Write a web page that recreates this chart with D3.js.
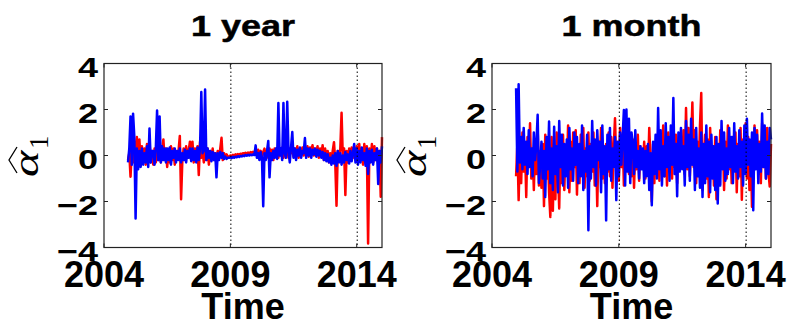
<!DOCTYPE html>
<html>
<head>
<meta charset="utf-8">
<script src="https://cdn.jsdelivr.net/npm/d3@7"></script>
<style>
  html, body { margin: 0; padding: 0; background: #fff; }
  svg { display: block; }
</style>
</head>
<body>
<div id="chart"></div>
<script>
// sampling of the estimates: first date and spacing in years
const startYear = 2004.95;
const stepYears = 0.05;

const xTicks = [2004, 2009, 2014];
const yTicks = [-4, -2, 0, 2, 4];
const markerYears = [2009, 2014];
const panelTitles = ["1 year", "1 month"];

// 1 year window estimates
const yearRed = [
  -0.2, 0.1, -0.92, 0.3, -0.3, 0.2, 0.4, 0.8, -0.2, 0.7,
  -0.3, 0.4, -0.2, 0.3, -0.4, 0.5, -0.1, 0.6, -0.3, 0.2,
  -0.4, 0.3, -0.3, 0.2, -0.2, 0.1, -0.3, 0.2, 0.7, -0.2,
  0.3, -0.5, 0.2, -0.3, 0.4, -0.2, 0.3, -0.4, 0.2, -0.1,
  0.2, 0.85, -1.9, -0.2, 0.3, -0.2, 0.4, -0.1, 0.2, 0.6,
  -0.2, 0.6, -0.3, 0.3, -0.2, 0.4, -0.85, 0.6, -0.1, 0.2,
  -0.3, 0.2, -0.2, 0.3, -0.4, 0.2, -0.1, 0.3, -0.2, 0.1,
  -0.2, 0.2, -0.1, 0.3, 0.77, -0.2, 0.1, -0.1, 0.05, -0.05,
  -0.05, 0.0, -0.02, 0.03, 0.0, 0.05, 0.02, 0.06, 0.04, 0.08,
  0.05, 0.1, 0.07, 0.12, 0.09, 0.13, 0.1, 0.15, 0.12, 0.16,
  0.1, 0.2, 0.05, 0.25, 0.0, 0.2, -0.1, 0.15, 0.3, -0.1,
  0.2, -0.1, 0.3, 0.0, 0.25, -0.2, 0.3, 0.05, 0.2, -0.1,
  0.3, 0.0, 0.35, -0.1, 0.25, 0.05, 0.4, -0.1, 0.3, 0.1,
  0.35, -0.05, 0.3, 0.1, 0.4, -0.1, 0.3, 0.05, 0.35, 0.0,
  0.3, 0.1, 0.4, -0.05, 0.35, 0.15, 0.45, 0.0, 0.3, 0.1,
  0.4, -0.1, 0.3, 0.0, 0.45, -0.2, 0.3, -0.1, 0.2, -0.3,
  0.1, -0.2, 0.2, 0.58, -0.3, -2.18, 0.2, -0.2, 0.3, 1.86,
  -0.1, 0.3, -1.72, 0.2, -0.3, 0.3, -0.2, 0.35, -0.1, 0.3,
  -0.2, 0.4, -0.3, 0.5, -0.2, 0.3, -0.4, 0.5, -0.3, 0.4,
  -3.83, 0.3, -0.2, 0.5, -0.3, 0.4, -0.2, 0.3, -0.4, 0.2,
  -1.79, 0.8
];

const yearBlue = [
  -0.3, 0.3, 1.7, -0.4, 1.82, 0.8, -2.74, 0.3, -0.6, 0.2,
  -0.5, 0.3, -0.4, 0.1, -0.3, 0.4, -0.5, 1.17, -0.3, 0.2,
  0.2, -0.4, 0.3, 1.96, -0.2, 1.7, -0.3, 0.4, -0.2, 0.3,
  -0.3, 0.3, -0.2, 0.35, -0.4, 0.2, -0.1, 0.3, -0.3, 0.2,
  -0.2, 0.3, -0.3, 0.1, -0.2, 0.25, -0.3, 0.2, -0.1, 0.3,
  -0.25, 0.3, -0.2, 0.2, -0.3, 0.35, -0.2, 0.3, 2.76, 0.1,
  0.2, 2.87, -0.2, 0.3, -0.1, 0.2, -0.25, 0.15, -0.2, 0.1,
  -0.95, 0.1, -0.2, 0.15, -0.1, 0.1, -0.15, -0.05, -0.15, -0.1,
  -0.1, -0.08, -0.12, -0.06, -0.1, -0.05, -0.08, -0.03, -0.06, -0.02,
  -0.04, 0.0, -0.03, 0.02, -0.01, 0.03, 0.0, 0.04, 0.01, 0.05,
  0.02, 0.44, -0.1, 0.1, -0.2, 0.15, -0.1, -2.21, 0.1, -0.2,
  0.2, 0.63, -0.95, 0.1, -0.2, 0.2, -0.1, 0.3, -0.15, 2.28,
  0.0, 0.3, -0.2, 2.28, 0.1, -0.1, 2.34, 0.2, -0.3, 0.35,
  1.02, -0.1, 0.3, -0.2, 0.25, 0.0, 0.35, -0.1, 0.2, 0.1,
  0.76, -0.1, 0.3, 0.0, 0.3, -0.1, 0.25, 0.05, 0.3, -0.05,
  0.25, 0.0, 0.2, -0.1, 0.15, -0.2, 0.1, -0.25, 0.05, -0.3,
  -0.1, -0.4, 0.0, -0.35, 0.1, -0.45, 0.2, -0.3, 0.1, -0.4,
  0.0, -0.3, 0.15, -0.2, 0.05, -0.35, 0.2, -0.25, 0.1, 0.5,
  -0.3, 0.3, -0.4, 0.2, -0.3, 0.35, -0.2, 0.1, -0.45, 0.3,
  -0.8, 0.2, -0.3, 0.25, -0.4, 0.1, -0.2, 0.3, -1.24, 0.2,
  -0.3, 0.4
];

// 1 month window estimates
const monthRed = [
  -0.9, 0.5, -1.94, 0.2, -1.2, 1.0, -0.7, 0.4, -1.8, 0.8,
  -0.5, 1.4, -1.0, 0.3, -1.5, 0.6, -0.8, 1.2, -1.3, 0.2,
  -1.4, 0.5, -2.2, 0.9, -1.0, 0.3, -1.6, -2.67, 0.8, -2.4,
  0.4, -1.9, 1.0, -0.6, -2.3, 0.5, -1.2, 0.9, -1.5, 0.3,
  -0.8, 1.3, -1.6, 0.6, -1.1, 1.0, -0.5, 1.1, -1.7, 0.4,
  -1.2, 0.9, -0.6, 1.2, -1.4, 0.3, -0.9, 1.0, -1.1, 0.5,
  -0.7, 1.0, -1.3, 0.4, -2.2, 0.6, -0.5, 1.2, -1.0, 0.3,
  -1.2, 0.5, -0.7, 1.0, -0.9, 0.8, -1.4, 0.4, 1.62, -0.6,
  0.4, -1.1, 1.2, -0.5, 0.9, -1.3, 0.6, -0.4, 1.0, -0.8,
  0.3, -0.9, 0.7, -1.4, 0.5, -0.6, 0.9, -1.1, 0.4, -0.3,
  -0.5, 0.6, -1.0, 0.4, -0.8, 1.2, -0.3, -2.0, 0.5, -1.2,
  0.4, -0.8, 1.0, -1.1, 0.6, -0.4, 1.3, -0.9, 0.5, -1.3,
  1.0, -0.6, 0.7, -1.0, 1.4, -0.5, 0.9, -1.2, 0.6, -0.3,
  0.8, -0.4, 1.1, -0.8, 2.06, -0.6, 1.2, -0.9, 0.5, 2.3,
  -0.5, 1.1, -1.2, 0.6, -0.9, 1.3, 2.72, -1.5, -0.4, 0.9,
  -1.0, 0.7, -1.8, 1.2, -0.6, 0.4, -1.3, 0.8, -1.9, 0.5,
  -0.8, 1.1, -0.4, 0.9, -1.5, 0.6, -1.0, 1.3, -0.6, 0.4,
  -1.2, 0.8, -0.5, 1.0, -1.6, 0.5, -0.9, 1.2, -1.92, 0.7,
  -0.6, 1.4, -1.0, 0.8, -1.5, 0.6, -2.23, -0.9, 1.3, -0.4,
  1.1, -0.8, 0.6, -1.2, 1.4, -0.5, 0.9, -1.0, 1.2, -0.7,
  -1.35, 0.5
];

const monthBlue = [
  2.93, -0.7, 3.1, -0.3, 0.8, -0.6, 1.2, -0.4, 0.6, -0.8,
  1.1, -0.5, 0.3, -0.9, 1.0, -0.2, 0.5, 1.77, -1.2, -0.4,
  0.6, -1.0, 0.2, -1.8, 0.8, -0.6, 1.48, -1.2, 0.3, -1.5,
  1.25, -0.8, 0.4, -1.6, 1.5, -0.5, 0.9, -1.3, 0.5, -0.9,
  0.7, -1.4, 1.2, -0.6, 0.3, -1.1, 1.0, -0.4, 0.8, -1.2,
  0.5, -0.9, 1.3, -1.5, 0.2, -0.7, 0.9, -3.25, 0.4, -1.0,
  1.5, -0.5, 0.7, -1.3, 1.1, -0.2, 0.6, -1.6, 1.3, -0.8,
  0.4, -2.82, 0.9, -0.6, 1.2, -1.1, 0.3, -0.5, 0.8, -1.94,
  0.6, -0.9, 1.0, -0.4, 0.8, 1.98, -1.3, 2.0, -0.7, 1.6,
  -1.2, 1.0, 0.5, -0.8, 1.1, -0.5, 0.2, -1.0, 0.4, -0.6,
  0.3, -1.2, 0.2, -0.9, 0.5, -1.5, 0.1, -2.16, 0.6, -0.8,
  0.9, -1.0, 2.06, -0.6, 1.1, -1.3, 0.4, -0.9, 1.4, -0.5,
  0.8, -1.1, 1.3, -0.4, 2.5, -0.8, 0.5, -1.77, 1.0, -0.7,
  1.2, -0.6, 0.4, -1.3, 1.5, -0.5, 0.9, -1.1, 1.6, -0.4,
  0.7, -1.5, 1.2, -0.9, 0.3, -1.4, 1.0, -1.8, 0.5, -1.2,
  1.3, -0.9, 0.6, -1.6, 0.9, -1.0, 0.4, -1.5, 0.8, -2.09,
  0.5, -1.3, 1.5, -0.6, 1.0, -1.1, 0.3, -0.8, 1.2, -0.5,
  0.8, -1.2, 1.4, -0.7, 0.4, -1.0, 1.1, -0.5, 0.6, -1.3,
  1.3, -0.8, 1.6, -0.4, 0.7, -0.9, 1.0, -2.38, 1.2, -0.6,
  0.9, -1.2, 0.5, -0.7, 1.83, -0.5, 1.3, -1.0, 0.6, -0.8,
  1.2, 0.7
];

const width = 787;
const height = 323;
const sansFont = "'Liberation Sans', Arial, Helvetica, sans-serif";
const serifFont = "'Liberation Serif', 'Times New Roman', serif";

const svg = d3.select("#chart")
  .append("svg")
  .attr("width", width)
  .attr("height", height);

svg.append("rect")
  .attr("width", width)
  .attr("height", height)
  .attr("fill", "#fff");

function toPoints(values) {
  return values.map((v, i) => ({ t: startYear + i * stepYears, v: v }));
}

function drawPanel(left, right, title, red, blue) {
  const top = 63.5;
  const bottom = 247.5;

  const x = d3.scaleLinear().domain([2004, 2015]).range([left, right]);
  const y = d3.scaleLinear().domain([-4, 4]).range([bottom, top]);

  const g = svg.append("g");

  // series, red first then blue on top
  const line = d3.line()
    .x(d => x(d.t))
    .y(d => y(d.v));

  [[red, "#ff0000"], [blue, "#0000ff"]].forEach(([values, color]) => {
    g.append("path")
      .datum(toPoints(values))
      .attr("fill", "none")
      .attr("stroke", color)
      .attr("stroke-width", 2.5)
      .attr("stroke-linejoin", "round")
      .attr("d", line);
  });

  // dotted year markers
  g.selectAll("line.marker")
    .data(markerYears)
    .join("line")
    .attr("class", "marker")
    .attr("x1", d => x(d) + 0.5)
    .attr("x2", d => x(d) + 0.5)
    .attr("y1", top)
    .attr("y2", bottom)
    .attr("stroke", "#000")
    .attr("stroke-width", 1)
    .attr("stroke-dasharray", "1.5,2.5");

  // box
  g.append("rect")
    .attr("x", left)
    .attr("y", top)
    .attr("width", right - left)
    .attr("height", bottom - top)
    .attr("fill", "none")
    .attr("stroke", "#222")
    .attr("stroke-width", 1.2);

  // inward ticks on all four sides
  const tickLen = 4;
  g.selectAll("line.ytick")
    .data(yTicks.flatMap(v => [[left, v, 1], [right, v, -1]]))
    .join("line")
    .attr("class", "ytick")
    .attr("x1", d => d[0])
    .attr("x2", d => d[0] + d[2] * tickLen)
    .attr("y1", d => y(d[1]))
    .attr("y2", d => y(d[1]))
    .attr("stroke", "#222");

  g.selectAll("line.xtick")
    .data(xTicks.flatMap(v => [[bottom, v, -1], [top, v, 1]]))
    .join("line")
    .attr("class", "xtick")
    .attr("x1", d => x(d[1]))
    .attr("x2", d => x(d[1]))
    .attr("y1", d => d[0])
    .attr("y2", d => d[0] + d[2] * tickLen)
    .attr("stroke", "#222");

  // tick labels
  g.selectAll("text.ylab")
    .data(yTicks)
    .join("text")
    .attr("class", "ylab")
    .attr("transform", d => `translate(${left - 6},${y(d) + 13}) scale(1,0.78)`)
    .attr("text-anchor", "end")
    .attr("font-family", sansFont)
    .attr("font-weight", "bold")
    .attr("font-size", 36)
    .attr("fill", "#000")
    .text(d => d3.format("d")(d));

  g.selectAll("text.xlab")
    .data(xTicks)
    .join("text")
    .attr("class", "xlab")
    .attr("x", d => x(d))
    .attr("y", 287)
    .attr("text-anchor", "middle")
    .attr("font-family", sansFont)
    .attr("font-weight", "bold")
    .attr("font-size", 36)
    .attr("fill", "#000")
    .text(d => d);

  const mid = (left + right) / 2;

  g.append("text")
    .attr("transform", `translate(${mid},36) scale(1,0.8)`)
    .attr("text-anchor", "middle")
    .attr("font-family", sansFont)
    .attr("font-weight", "bold")
    .attr("font-size", 36)
    .attr("fill", "#000")
    .attr("stroke", "#000")
    .attr("stroke-width", 0.6)
    .text(title);

  g.append("text")
    .attr("x", mid)
    .attr("y", 319)
    .attr("text-anchor", "middle")
    .attr("font-family", sansFont)
    .attr("font-weight", "bold")
    .attr("font-size", 36)
    .attr("fill", "#000")
    .text("Time");

  // y label: alpha hat with subscript 1, rotated
  const lab = g.append("g")
    .attr("transform", `translate(${left - 66},177) rotate(-90)`);

  lab.append("text")
    .attr("transform", "scale(1.4,1)")
    .attr("font-family", serifFont)
    .attr("font-style", "italic")
    .attr("font-size", 36)
    .attr("fill", "#000")
    .text("α");

  lab.append("text")
    .attr("x", 28)
    .attr("y", 10)
    .attr("font-family", serifFont)
    .attr("font-size", 27)
    .attr("fill", "#000")
    .text("1");

  lab.append("path")
    .attr("d", "M4,-21L17,-29L30,-21")
    .attr("fill", "none")
    .attr("stroke", "#000")
    .attr("stroke-width", 1.3);
}

drawPanel(104, 382, panelTitles[0], yearRed, yearBlue);
drawPanel(492, 771, panelTitles[1], monthRed, monthBlue);
</script>
</body>
</html>
